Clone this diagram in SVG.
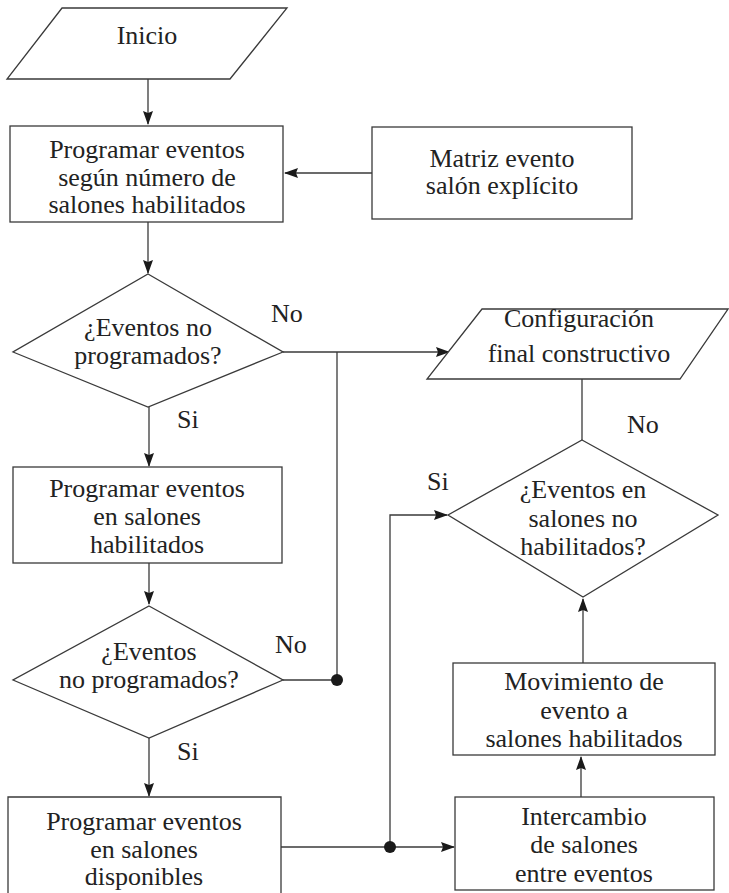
<svg xmlns="http://www.w3.org/2000/svg" width="729" height="893" viewBox="0 0 729 893">
<defs>
<style>
.s{fill:#fff;stroke:#3a3a3a;stroke-width:1.3}
.t{font-family:"Liberation Serif","Times New Roman",serif;font-size:26px;fill:#222;text-anchor:middle}
.l{font-family:"Liberation Serif","Times New Roman",serif;font-size:26px;fill:#222}
.c{fill:none;stroke:#3a3a3a;stroke-width:1.3}
.d{fill:#1a1a1a}
</style>
<marker id="ah" markerWidth="14" markerHeight="10" refX="13" refY="5" orient="auto" markerUnits="userSpaceOnUse">
<path d="M0,0 L14,5 L0,10 L2,5 z" fill="#1a1a1a"/>
</marker>
</defs>
<rect width="729" height="893" fill="#fff"/>
<g id="connectors">
<path class="c" d="M148,79 V124" marker-end="url(#ah)"/>
<path class="c" d="M372,173 H285" marker-end="url(#ah)"/>
<path class="c" d="M148,222 V273" marker-end="url(#ah)"/>
<path class="c" d="M283,352 H449" marker-end="url(#ah)"/>
<path class="c" d="M337,352 V680"/>
<path class="c" d="M149,407 V466" marker-end="url(#ah)"/>
<path class="c" d="M149,563 V604" marker-end="url(#ah)"/>
<path class="c" d="M283,680 H337"/>
<path class="c" d="M149,738 V796" marker-end="url(#ah)"/>
<path class="c" d="M281,847 H454" marker-end="url(#ah)"/>
<path class="c" d="M390,847 V515 H447" marker-end="url(#ah)"/>
<path class="c" d="M582,379 V440"/>
<path class="c" d="M583,663 V599" marker-end="url(#ah)"/>
<path class="c" d="M581,797 V757" marker-end="url(#ah)"/>
<circle class="d" cx="337" cy="680" r="6"/>
<circle class="d" cx="390" cy="847" r="6"/>
<text class="l" x="271" y="322">No</text>
<text class="l" x="177" y="428">Si</text>
<text class="l" x="275" y="653">No</text>
<text class="l" x="177" y="760">Si</text>
<text class="l" x="627" y="433">No</text>
<text class="l" x="427" y="490">Si</text>
</g>
<g id="inicio">
<polygon class="s" points="62,8 287,8 230,79 7,79"/>
<text class="t" x="147" y="44">Inicio</text>
</g>
<g id="programar1">
<rect class="s" x="10" y="126" width="273" height="96"/>
<text class="t" x="147" y="158">Programar eventos</text>
<text class="t" x="147" y="186">según número de</text>
<text class="t" x="147" y="213">salones habilitados</text>
</g>
<g id="matriz">
<rect class="s" x="372" y="127" width="260" height="92"/>
<text class="t" x="502" y="167">Matriz evento</text>
<text class="t" x="502" y="194">salón explícito</text>
</g>
<g id="decision1">
<polygon class="s" points="148,274 283,352 148,407 13,352"/>
<text class="t" x="148" y="336">¿Eventos no</text>
<text class="t" x="148" y="364">programados?</text>
</g>
<g id="programar2">
<rect class="s" x="13" y="467" width="269" height="96"/>
<text class="t" x="147" y="497">Programar eventos</text>
<text class="t" x="147" y="525">en salones</text>
<text class="t" x="147" y="553">habilitados</text>
</g>
<g id="decision2">
<polygon class="s" points="149,606 283,680 149,738 13,680"/>
<text class="t" x="149" y="660">¿Eventos</text>
<text class="t" x="149" y="688">no programados?</text>
</g>
<g id="programar3">
<path class="s" d="M8,894 V797 H281 V894"/>
<text class="t" x="144" y="830">Programar eventos</text>
<text class="t" x="144" y="858">en salones</text>
<text class="t" x="144" y="885">disponibles</text>
</g>
<g id="configuracion">
<polygon class="s" points="482,309 728,309 680,379 427,379"/>
<text class="t" x="579" y="327">Configuración</text>
<text class="t" x="579" y="362">final constructivo</text>
</g>
<g id="decision3">
<polygon class="s" points="582,440 718,515 583,597 448,515"/>
<text class="t" x="583" y="498">¿Eventos en</text>
<text class="t" x="583" y="527">salones no</text>
<text class="t" x="583" y="555">habilitados?</text>
</g>
<g id="movimiento">
<rect class="s" x="453" y="663" width="262" height="92"/>
<text class="t" x="584" y="690">Movimiento de</text>
<text class="t" x="584" y="719">evento a</text>
<text class="t" x="584" y="747">salones habilitados</text>
</g>
<g id="intercambio">
<rect class="s" x="455" y="797" width="259" height="93"/>
<text class="t" x="584" y="825">Intercambio</text>
<text class="t" x="584" y="853">de salones</text>
<text class="t" x="584" y="882">entre eventos</text>
</g>
</svg>
